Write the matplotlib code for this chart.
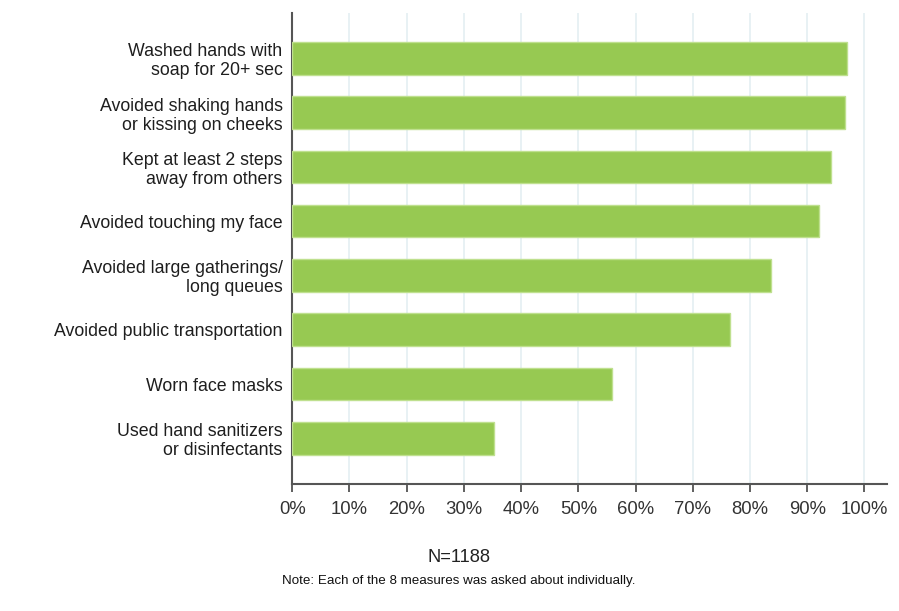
import numpy as np
import matplotlib
matplotlib.use("Agg")
import matplotlib.pyplot as plt

plt.rcParams['font.family'] = ['Liberation Sans', 'DejaVu Sans']

# survey answers, top to bottom
measures = [
    "Washed hands with\nsoap for 20+ sec",
    "Avoided shaking hands\nor kissing on cheeks",
    "Kept at least 2 steps\naway from others",
    "Avoided touching my face",
    "Avoided large gatherings/\nlong queues",
    "Avoided public transportation",
    "Worn face masks",
    "Used hand sanitizers\nor disinfectants",
]
share = [96.9, 96.6, 94.2, 92.0, 83.6, 76.5, 55.9, 35.3]
xticks = list(range(0, 101, 10))
xticklabels = [f"{t}%" for t in xticks]

fig = plt.figure(figsize=(8.99, 6.11), dpi=100)
ax = fig.add_axes([0.3251, 0.2079, 0.987 - 0.3251, 0.9792 - 0.2079])

y = np.arange(len(measures))
ax.barh(y, share, height=0.6, color='#97c952', edgecolor='#bfe08f', linewidth=1, zorder=3)

ax.set_ylim(len(measures) - 1 + 0.84, -0.84)
ax.set_xlim(0, 104)
ax.set_yticks(y)
ax.set_yticklabels(measures, fontsize=12.8, color='#1e1e1e', linespacing=1.15)
ax.tick_params(axis='y', length=0, pad=7)
ax.set_xticks(xticks)
ax.set_xticklabels(xticklabels, fontsize=13.3, color='#333333')
ax.tick_params(axis='x', length=6, width=1.2, color='#444444', direction='out', pad=6)

# light blue-grey vertical grid
ax.grid(axis='x', color='#e6f0f3', linewidth=1.3, zorder=0)
for s in ['top', 'right']:
    ax.spines[s].set_visible(False)
for s in ['left', 'bottom']:
    ax.spines[s].set_color('#555555')
    ax.spines[s].set_linewidth(1.5)

fig.text(459 / 899, 1 - 557 / 611, "N=1188", ha='center', va='center', fontsize=13.2, color='#222222')
fig.text(459 / 899, 1 - 581 / 611, "Note: Each of the 8 measures was asked about individually.",
         ha='center', va='center', fontsize=9.6, color='#111111',
         family=['Liberation Sans Narrow', 'Liberation Sans', 'DejaVu Sans'])

fig.savefig("out.png", dpi=100)
